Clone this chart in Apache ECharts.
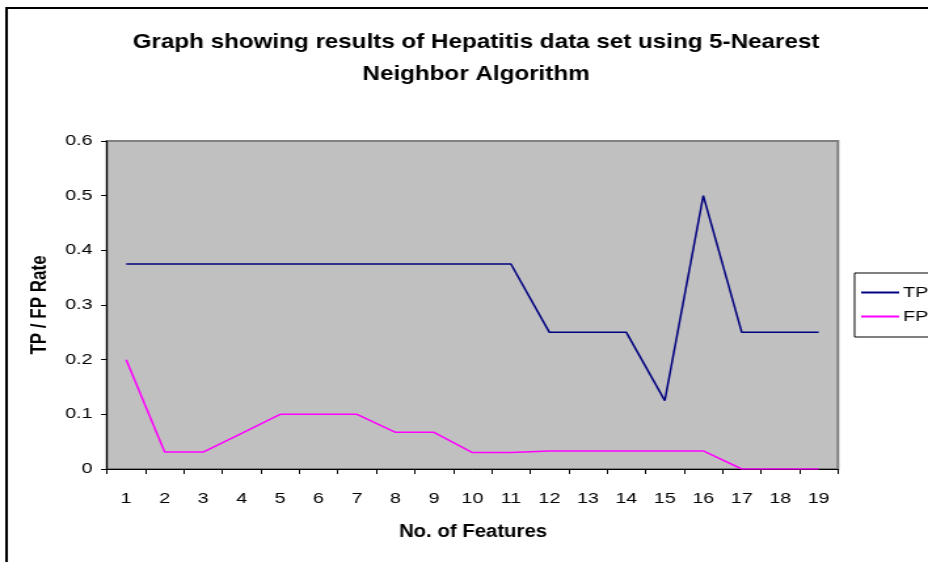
<!DOCTYPE html>
<html>
<head>
<meta charset="utf-8">
<script src="https://cdn.jsdelivr.net/npm/echarts@6/dist/echarts.min.js"></script>
<style>
  html, body { margin: 0; padding: 0; background: #fff; overflow: hidden; }
  /* The chart is laid out on a narrower canvas and widened horizontally,
     giving the stretched look of the original spreadsheet figure. */
  #chart { width: 708px; height: 562px; transform: scaleX(1.3107); transform-origin: 0 0; }
</style>
</head>
<body>
<div id="chart"></div>
<script>
// Number of features used by the 5-NN classifier
const features = ['1','2','3','4','5','6','7','8','9','10','11','12','13','14','15','16','17','18','19'];
// True-positive rate per feature count
const tpRate = [0.375,0.375,0.375,0.375,0.375,0.375,0.375,0.375,0.375,0.375,0.375,0.25,0.25,0.25,0.125,0.5,0.25,0.25,0.25];
// False-positive rate per feature count
const fpRate = [0.2,0.031,0.031,0.065,0.1,0.1,0.1,0.067,0.067,0.03,0.03,0.033,0.033,0.033,0.033,0.033,0,0,0];
const yTicks = { min: 0, max: 0.6, interval: 0.1 };
const titleLines = ['Graph showing results of Hepatitis data set using 5-Nearest', 'Neighbor Algorithm'];
const xName = 'No. of Features';
const yName = 'TP / FP Rate';

const FONT = '"Liberation Sans", Arial, sans-serif';
const chart = echarts.init(document.getElementById('chart'), null, { renderer: 'canvas' });

// Headline text is widened a little less than the rest of the canvas
const headText = (text, x, y, size, sx) => ({
  type: 'text',
  silent: true,
  x: x, y: y,
  scaleX: sx,
  style: {
    text: text,
    font: 'bold ' + size + 'px ' + FONT,
    fill: '#000',
    align: 'center',
    verticalAlign: 'middle'
  }
});

chart.setOption({
  animation: false,
  backgroundColor: '#ffffff',
  textStyle: { fontFamily: FONT, color: '#000' },
  legend: {
    orient: 'vertical',
    left: 652,
    top: 273,
    width: 56,
    padding: [12, 4, 13, 5],
    itemGap: 9,
    itemWidth: 29,
    itemHeight: 2,
    icon: 'rect',
    borderColor: '#000',
    borderWidth: 1,
    backgroundColor: '#fff',
    textStyle: { fontFamily: FONT, fontSize: 15, color: '#000', padding: [0, 0, 0, -2] },
    data: ['TP', 'FP']
  },
  grid: {
    left: 81.6,
    right: 68.7,
    top: 141,
    bottom: 93,
    show: true,
    backgroundColor: '#c0c0c0',
    borderColor: '#808080',
    borderWidth: 2
  },
  xAxis: {
    type: 'category',
    data: features,
    boundaryGap: true,
    axisLine: { lineStyle: { color: '#000', width: 1 } },
    axisTick: { show: true, length: 5, alignWithLabel: false, lineStyle: { color: '#000' } },
    axisLabel: { fontFamily: FONT, fontSize: 15, color: '#000', margin: 22 },
    splitLine: { show: false }
  },
  yAxis: {
    type: 'value',
    min: yTicks.min,
    max: yTicks.max,
    interval: yTicks.interval,
    name: yName,
    nameLocation: 'middle',
    nameGap: 40,
    nameRotate: 90,
    nameTextStyle: { fontFamily: FONT, fontSize: 17, fontWeight: 'bold', color: '#000' },
    axisLine: { show: true, lineStyle: { color: '#000', width: 1 } },
    axisTick: { show: true, length: 4.5, lineStyle: { color: '#000' } },
    axisLabel: { fontFamily: FONT, fontSize: 15, color: '#000', margin: 11 },
    splitLine: { show: false }
  },
  graphic: [
    {
      type: 'rect',
      silent: true,
      z: 100,
      shape: { x: 5, y: 8, width: 720, height: 600 },
      style: { fill: 'none', stroke: '#000', lineWidth: 2 }
    },
    headText(titleLines[0], 363.2, 42.5, 20.5, 0.9),
    headText(titleLines[1], 363.2, 74, 20.5, 0.9),
    headText(xName, 360.9, 532.5, 17.5, 0.887)
  ],
  series: [
    {
      name: 'TP',
      type: 'line',
      data: tpRate,
      symbol: 'none',
      lineStyle: { color: '#000080', width: 1.5 },
      itemStyle: { color: '#000080' }
    },
    {
      name: 'FP',
      type: 'line',
      data: fpRate,
      symbol: 'none',
      lineStyle: { color: '#ff00ff', width: 1.5 },
      itemStyle: { color: '#ff00ff' }
    }
  ]
});
</script>
</body>
</html>
